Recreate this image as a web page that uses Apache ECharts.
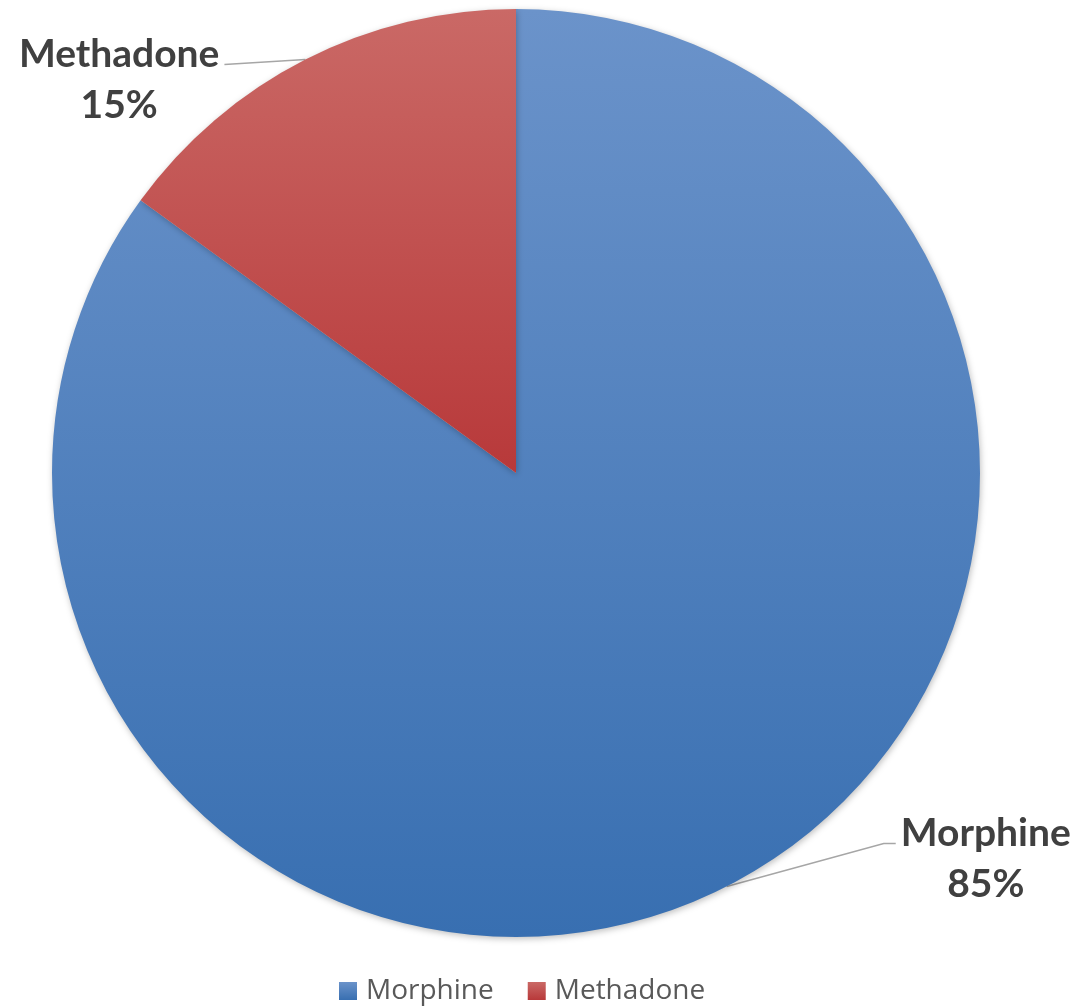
<!DOCTYPE html>
<html>
<head>
<meta charset="utf-8">
<script src="https://cdn.jsdelivr.net/npm/echarts@6/dist/echarts.min.js"></script>
<style>html,body{margin:0;padding:0;background:#fff}#c{width:1082px;height:1008px}</style>
</head>
<body>
<div id="c"></div>
<script>
const categories = ['Morphine', 'Methadone'];
const values = [85, 15];

const gradients = [
  ['#6b93ca', '#386fb1'],
  ['#ca6966', '#b8393a']
];

const chart = echarts.init(document.getElementById('c'), null, {renderer: 'canvas'});
const labelFont = 'Lato, "Open Sans", sans-serif';

chart.setOption({
  animation: false,
  legend: {
    top: 977,
    left: 339,
    itemWidth: 18,
    itemHeight: 18,
    itemGap: 34,
    padding: 0,
    icon: 'rect',
    textStyle: {fontFamily: '"Open Sans", sans-serif', fontSize: 28, color: '#595959', padding: [0,0,0,4]},
    data: categories
  },
  series: [{
    type: 'pie',
    center: [516, 473],
    radius: 464,
    startAngle: 90,
    clockwise: true,
    label: {
      show: true,
      position: 'outside',
      overflow: 'none',
      formatter: '{n|{b}}\n{n|{d}%}',
      padding: [30, 0, 0, 0],
      rich: {
        n: {fontFamily: labelFont, fontWeight: 'bold', fontSize: 39, color: '#404040', align: 'center', lineHeight: 51}
      }
    },
    labelLine: {
      show: true,
      lineStyle: {color: '#a6a6a6', width: 1.5}
    },
    labelLayout: function (p) {
      const pts = p.labelLinePoints;
      if (!pts) return {};
      const p0 = pts[0];
      const end = pts[pts.length - 1];
      if (p.dataIndex === 0) {
        const endY = p0[1] - 43;
        return {dy: endY - end[1], labelLinePoints: [p0, [end[0] - 12, endY], [end[0], endY]]};
      } else {
        const endY = p0[1] + 5;
        return {dy: endY - end[1], labelLinePoints: [p0, [end[0], endY]]};
      }
    },
    itemStyle: {
      shadowBlur: 6,
      shadowColor: 'rgba(0,0,0,0.25)',
      shadowOffsetX: 1,
      shadowOffsetY: 2
    },
    emphasis: {disabled: true},
    data: categories.map((c, i) => ({
      name: c,
      value: values[i],
      itemStyle: {
        color: new echarts.graphic.LinearGradient(0, 0, 0, 1, [
          {offset: 0, color: gradients[i][0]},
          {offset: 1, color: gradients[i][1]}
        ])
      },
      labelLine: i === 0 ? {length: 20, length2: 160} : {length: 2, length2: 80}
    }))
  }]
});
</script>
</body>
</html>
